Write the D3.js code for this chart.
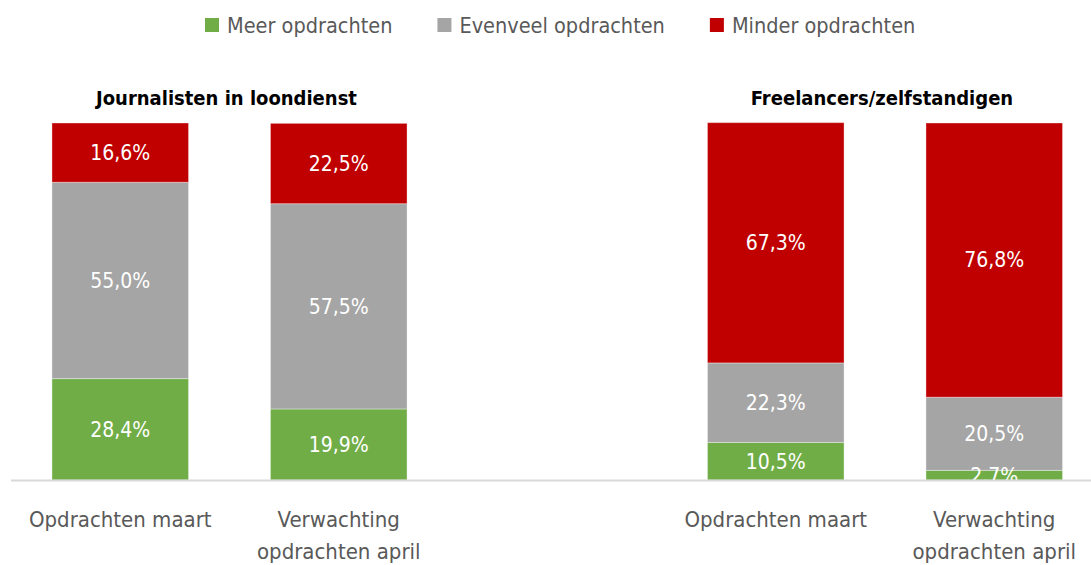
<!DOCTYPE html>
<html>
<head>
<meta charset="utf-8">
<script src="https://cdn.jsdelivr.net/npm/d3@7"></script>
<style>
  body { margin: 0; background: #fff; }
  svg text { font-family: "Liberation Sans Narrow", "DejaVu Sans Condensed", "Roboto Condensed", sans-serif; }
</style>
</head>
<body>
<div id="chart"></div>
<script>
/* Data */
var series = ["Meer opdrachten", "Evenveel opdrachten", "Minder opdrachten"];
var colors = ["#70AD47", "#A5A5A5", "#C00000"];
var groups = ["Journalisten in loondienst", "Freelancers/zelfstandigen"];
var categories = ["Opdrachten maart", "Verwachting opdrachten april"];
var meer     = [28.4, 19.9, 10.5, 2.7];
var evenveel = [55.0, 57.5, 22.3, 20.5];
var minder   = [16.6, 22.5, 67.3, 76.8];

var width = 1091, height = 565;
var margins = {top: 123, bottom: 85};

/* Rows: two bars per group, one empty slot between groups */
var rows = [];
groups.forEach(function(g, gi) {
    categories.forEach(function(c, ci) {
        var i = gi * 2 + ci;
        rows.push({key: g + "|" + c, group: g, cat: c, meer: meer[i], evenveel: evenveel[i], minder: minder[i]});
    });
});
var slots = [rows[0].key, rows[1].key, "gap", rows[2].key, rows[3].key];

var svg = d3.select("#chart").append("svg")
    .attr("width", width)
    .attr("height", height);

var x = d3.scaleBand()
    .domain(slots)
    .range([11, 1103.5])
    .paddingInner(0.375)
    .paddingOuter(0.1875);

var y = d3.scaleLinear()
    .domain([0, 100])
    .range([height - margins.bottom, margins.top]);

var keys = ["meer", "evenveel", "minder"];
var stacked = d3.stack().keys(keys)(rows);

svg.append("defs").append("clipPath")
    .attr("id", "plot")
  .append("rect")
    .attr("x", 0).attr("y", 0)
    .attr("width", width).attr("height", y(0));

var layers = svg.selectAll(".layer")
    .data(stacked)
    .enter().append("g")
        .attr("class", "layer")
        .attr("fill", function(d, i) { return colors[i]; });

layers.selectAll("rect")
    .data(function(d) { return d; })
    .enter().append("rect")
        .attr("x", function(d) { return x(d.data.key); })
        .attr("width", x.bandwidth())
        .attr("y", function(d) { return y(d[1]); })
        .attr("height", function(d) { return y(d[0]) - y(d[1]); })
        .attr("stroke", "#fff")
        .attr("stroke-opacity", 0.35)
        .attr("stroke-width", 1);

/* Value labels */
var labels = svg.append("g").attr("clip-path", "url(#plot)");
stacked.forEach(function(layer) {
    labels.selectAll(null)
        .data(layer)
        .enter().append("text")
            .attr("x", function(d) { return x(d.data.key) + x.bandwidth() / 2; })
            .attr("y", function(d) { return (y(d[0]) + y(d[1])) / 2; })
            .attr("dy", "0.35em")
            .attr("text-anchor", "middle")
            .attr("fill", "#fff")
            .attr("font-size", 21)
            .text(function(d) { return (d[1] - d[0]).toFixed(1).replace(".", ",") + "%"; });
});

/* Axis line */
svg.append("line")
    .attr("x1", 11).attr("x2", width)
    .attr("y1", y(0) + 0.5).attr("y2", y(0) + 0.5)
    .attr("stroke", "#D9D9D9")
    .attr("stroke-width", 2);

/* Category labels */
var catLabels = svg.selectAll(".cat")
    .data(rows)
    .enter().append("text")
        .attr("class", "cat")
        .attr("text-anchor", "middle")
        .attr("fill", "#595959")
        .attr("font-size", 22)
        .attr("x", function(d) { return x(d.key) + x.bandwidth() / 2; });
catLabels.each(function(d) {
    var t = d3.select(this);
    var lines = d.cat === categories[1] ? ["Verwachting", "opdrachten april"] : [d.cat];
    lines.forEach(function(l, i) {
        t.append("tspan")
            .attr("x", x(d.key) + x.bandwidth() / 2)
            .attr("y", 527 + i * 32)
            .text(l);
    });
});

/* Group titles */
svg.selectAll(".title")
    .data(groups)
    .enter().append("text")
        .attr("class", "title")
        .attr("text-anchor", "middle")
        .attr("font-weight", "bold")
        .attr("font-size", 20)
        .attr("fill", "#000")
        .attr("x", function(d, i) {
            var a = rows[i * 2].key, b = rows[i * 2 + 1].key;
            return (x(a) + x(b) + x.bandwidth()) / 2 - 3;
        })
        .attr("y", 105)
        .text(function(d) { return d; });

/* Legend */
var legend = svg.append("g").attr("class", "legend");
var lx = 205;
series.forEach(function(s, i) {
    legend.append("rect")
        .attr("x", lx).attr("y", 18)
        .attr("width", 14).attr("height", 14)
        .attr("fill", colors[i]);
    var t = legend.append("text")
        .attr("x", lx + 22).attr("y", 25)
        .attr("dy", "0.35em")
        .attr("fill", "#595959")
        .attr("font-size", 21.5)
        .text(s);
    lx += 22 + t.node().getComputedTextLength() + 45;
});
</script>
</body>
</html>
